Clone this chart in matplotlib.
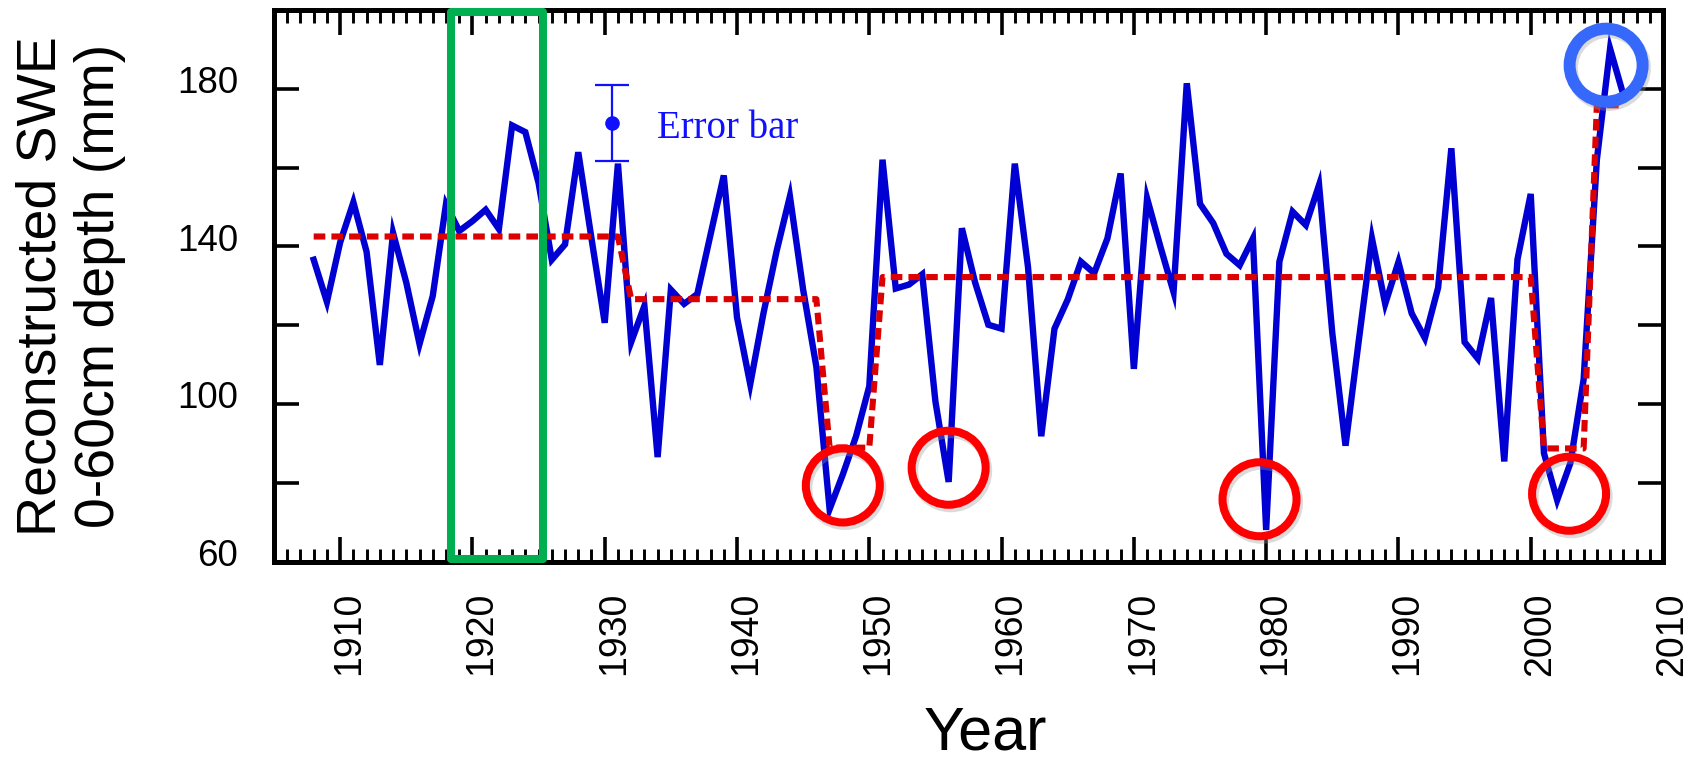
import numpy as np
import matplotlib
matplotlib.use("Agg")
import matplotlib.pyplot as plt
from matplotlib.patches import Ellipse, Rectangle
from matplotlib.transforms import ScaledTranslation

# ---------------- data ----------------
years = list(range(1908, 2008))
swe = [136.6, 125.9, 141.0, 151.2, 138.6, 109.9, 143.4, 130.8, 115.2, 127.4,   # 1908-1917
       150.7, 143.9, 146.4, 149.3, 144.4, 170.7, 169.0, 156.1, 136.6, 140.5,   # 1918-1927
       163.9, 142.0, 120.6, 161.0, 115.7, 124.9, 86.5, 129.0, 125.4, 127.9,    # 1928-1937
       143.0, 158.0, 122.0, 105.0, 123.0, 138.9, 152.7, 129.0, 109.4, 73.3,    # 1938-1947
       82.1, 91.8, 104.5, 162.0, 129.3, 130.3, 132.9, 100.6, 80.2, 144.6,      # 1948-1957
       130.8, 120.1, 119.1, 161.0, 134.7, 91.8, 119.1, 126.5, 136.1, 133.2,    # 1958-1967
       142.0, 158.5, 108.9, 152.2, 140.0, 128.4, 181.4, 150.8, 145.9, 138.1,   # 1968-1977
       135.2, 142.0, 68.0, 136.1, 148.8, 145.4, 155.6, 118.0, 89.4, 116.0,     # 1978-1987
       142.0, 125.4, 136.0, 123.0, 116.7, 129.5, 164.9, 115.7, 111.5, 126.9,   # 1988-1997
       85.4, 136.7, 153.3, 87.5, 75.6, 85.0, 106.2, 162.0, 190.2, 178.5]       # 1998-2007

# regime means (step line): first year, last year, level
regime_start = [1908, 1932, 1947, 1951, 2001, 2005]
regime_end = [1931, 1946, 1950, 2000, 2004, 2007]
regime_level = [142.5, 126.6, 88.9, 132.2, 88.7, 175.8]

# highlighted events (centres of annotation circles)
low_years = [1948.0, 1956.0, 1979.5, 2002.9]
low_vals = [79.3, 83.8, 75.8, 77.2]
high_year = 2005.7
high_val = 186.0
box_years = [1918.35, 1925.36]

# example error bar
err_year = 1930.57
err_val = 171.25
err_size = 9.65

xtick_labels = [str(y) for y in range(1910, 2011, 10)]
ytick_vals = list(range(60, 201, 20))
ytick_labels = ["60", "", "100", "", "140", "", "180", ""]

# ---------------- figure ----------------
plt.rcParams['font.family'] = ['Liberation Sans', 'DejaVu Sans']
fig = plt.figure(figsize=(17.01, 7.64), dpi=100)
ax = fig.add_axes([274 / 1701, 1 - 561.5 / 764, 1389 / 1701, 551.5 / 764])
ax.set_xlim(1905, 2010)
ax.set_ylim(60, 200)

# blue series
ax.plot(years, swe, color='#0000d2', lw=4.6, solid_joinstyle='miter', zorder=3)

# regime step line
step_vals = []
for y in years:
    for s, e, lv in zip(regime_start, regime_end, regime_level):
        if s <= y <= e:
            step_vals.append(lv)
ax.plot(years, step_vals, color='#dd0000', lw=4.4, dashes=(1.9, 1.0),
        dash_capstyle='butt', zorder=4)

# error bar example
ax.errorbar([err_year], [err_val], yerr=[err_size], fmt='o', color='#1010ff',
            ms=9.5, lw=1.6, capsize=12.5, capthick=1.6, zorder=5)
ax.text(err_year + 3.4, err_val - 3.85, 'Error bar', color='#1010ff',
        fontsize=28, family=['Liberation Serif', 'DejaVu Serif'],
        ha='left', va='baseline', zorder=5)

# circles (as ellipses in data units to look round)
px_x = 1389 / 105.0
px_y = 551.5 / 140.0
diam = 74.0
for xc, yc in zip(low_years, low_vals):
    sh = Ellipse((xc + 2.0 / px_x, yc - 3.0 / px_y), diam / px_x, diam / px_y,
                 fill=False, ec='#999999', lw=6.5, alpha=0.35, zorder=5.5)
    ax.add_patch(sh)
    e = Ellipse((xc, yc), diam / px_x, diam / px_y, fill=False,
                ec='#ff0000', lw=5.8, zorder=6)
    ax.add_patch(e)
sh = Ellipse((high_year + 2.0 / px_x, high_val - 3.0 / px_y), 73 / px_x, 73 / px_y,
             fill=False, ec='#999999', lw=9, alpha=0.35, zorder=5.5)
ax.add_patch(sh)
ax.add_patch(Ellipse((high_year, high_val), 73 / px_x, 73 / px_y, fill=False,
                     ec='#3568fb', lw=8.6, zorder=6))

# green box spanning the full height
ax.add_patch(Rectangle((box_years[0], 60.7), box_years[1] - box_years[0], 199.6 - 60.7,
                       fill=False, ec='#00b050', lw=5.8, joinstyle='round',
                       clip_on=False, zorder=7))

# axes styling
for sp in ax.spines.values():
    sp.set_linewidth(3.6)
    sp.set_zorder(6.5)
ax.set_xticks(range(1910, 2011, 10))
ax.set_xticklabels(xtick_labels, rotation=90, fontsize=27)
ax.set_xticks(range(1905, 2011), minor=True)
ax.set_yticks(ytick_vals)
ax.set_yticklabels(ytick_labels, fontsize=26.5)
ax.tick_params(axis='both', which='major', direction='in', length=18, width=2.6,
               top=True, right=True, color='black')
ax.tick_params(axis='x', which='major', pad=22)
ax.tick_params(axis='y', which='major', pad=26)
ax.tick_params(axis='x', which='minor', direction='in', length=9.5, width=2.1,
               top=True, bottom=True)
ax.tick_params(axis='y', which='minor', left=False, right=False)

off_x = ScaledTranslation(9 / 100, 0, fig.dpi_scale_trans)
for lab in ax.get_xticklabels():
    lab.set_transform(lab.get_transform() + off_x)
off_y = ScaledTranslation(0, 9 / 100, fig.dpi_scale_trans)
for lab in ax.get_yticklabels():
    lab.set_transform(lab.get_transform() + off_y)

fig.text(71 / 1701, 1 - 286 / 764, 'Reconstructed SWE\n0-60cm depth (mm)',
         rotation=90, ha='center', va='center', multialignment='center',
         fontsize=40, linespacing=1.17)
fig.text(985 / 1701, 1.5 / 764, 'Year', ha='center', va='bottom', fontsize=44)

fig.savefig('out.png', dpi=100)
